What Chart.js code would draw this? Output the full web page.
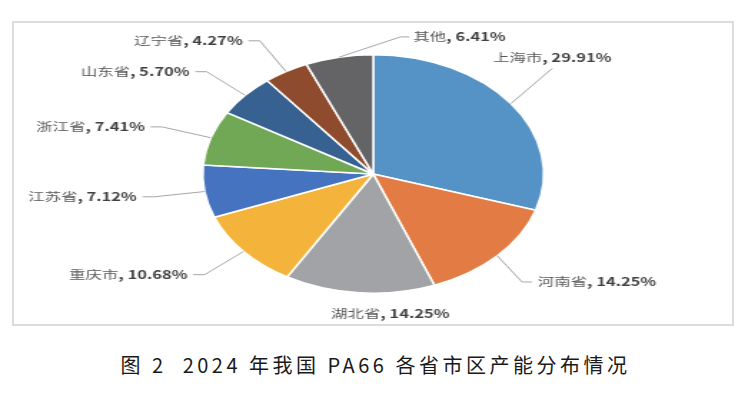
<!DOCTYPE html>
<html>
<head>
<meta charset="utf-8">
<script src="https://cdn.jsdelivr.net/npm/chart.js@4"></script>
<style>
  body { margin: 0; background: #fff; width: 751px; height: 398px; position: relative; overflow: hidden; }
  #frame { position: absolute; left: 12px; top: 21px; width: 718px; height: 301px; border: 2px solid #dcdcdc; }
  #wrap { position: absolute; left: 0; top: 0; width: 525px; height: 330px; transform: scaleX(1.43); transform-origin: 0 0; }
  #caption { position: absolute; left: 0; width: 751px; top: 350px; text-align: center;
    font: 20px "Noto Sans CJK SC", sans-serif; letter-spacing: 3.5px; color: #1a1a1a; }
</style>
</head>
<body>
<div id="frame"></div>
<div id="wrap"><canvas id="pie" width="525" height="330"></canvas></div>
<div id="caption">图 2&nbsp; 2024 年我国 PA66 各省市区产能分布情况</div>
<script>
const regions = ['上海市', '河南省', '湖北省', '重庆市', '江苏省', '浙江省', '山东省', '辽宁省', '其他'];
const shares = [29.91, 14.25, 14.25, 10.68, 7.12, 7.41, 5.70, 4.27, 6.41];
const sliceColors = ['#5592c6', '#e27b44', '#a2a3a6', '#f4b33a', '#4673bf', '#71a856', '#366190', '#8f4b2d', '#646466'];

// labels outside the pie with elbow leader lines (Excel style)
const outLabels = {
    id: 'outLabels',
    afterDatasetsDraw(chart) {
        const ctx = chart.ctx;
        const nameFont = '11.5px "Noto Sans CJK SC", sans-serif';
        const numFont = 'bold 11.5px "Noto Sans CJK SC", sans-serif';
        chart.getDatasetMeta(0).data.forEach((arc, i) => {
            const p = arc.getProps(['x', 'y', 'outerRadius', 'startAngle', 'endAngle'], true);
            const a = (p.startAngle + p.endAngle) / 2;
            const cos = Math.cos(a), sin = Math.sin(a);
            const r = p.outerRadius;
            const ax = p.x + r * cos, ay = p.y + r * sin;
            const name = regions[i], num = ', ' + shares[i].toFixed(2) + '%';
            ctx.save();
            ctx.font = nameFont;
            const w1 = ctx.measureText(name).width;
            ctx.font = numFont;
            const w2 = ctx.measureText(num).width;
            const w = w1 + w2;
            let tx, ty, pts;
            if (Math.abs(cos) < 0.25 && sin > 0) {
                // bottom: text centred under the slice, no line
                tx = p.x + 0.1 * r - w / 2; ty = p.y + 1.17 * r; pts = null;
            } else if (Math.abs(cos) < 0.25) {
                // top: line runs up and to the right
                const ex = ax + 0.36 * r, ey = p.y - 1.15 * r;
                pts = [[ax, ay], [ex, ey], [ex + 6, ey]];
                tx = ex + 9; ty = ey;
            } else if (cos > 0 && sin < -0.5) {
                // upper right: text sits on top of the line end
                const ex = p.x + 1.3 * r * cos, ey = p.y + 1.5 * r * sin;
                pts = [[ax, ay], [ex, ey]];
                tx = ex - w / 2; ty = ey - 11;
            } else if (cos > 0) {
                const ex = p.x + 1.2 * r * cos, ey = p.y + 1.32 * r * sin;
                pts = [[ax, ay], [ex, ey], [ex + 7, ey]];
                tx = ex + 11; ty = ey;
            } else {
                const ex = p.x + 1.3 * r * cos, ey = p.y + 1.3 * r * sin;
                pts = [[ax, ay], [ex, ey], [ex - 8, ey]];
                tx = ex - 12 - w; ty = ey;
            }
            if (pts) {
                ctx.strokeStyle = '#a6a6a6';
                ctx.lineWidth = 1;
                ctx.beginPath();
                pts.forEach((q, k) => k ? ctx.lineTo(q[0], q[1]) : ctx.moveTo(q[0], q[1]));
                ctx.stroke();
            }
            ctx.textBaseline = 'middle';
            ctx.textAlign = 'left';
            ctx.fillStyle = '#595959';
            ctx.font = nameFont;
            ctx.fillText(name, tx, ty);
            ctx.fillStyle = '#404040';
            ctx.font = numFont;
            ctx.fillText(num, tx + w1, ty);
            ctx.restore();
        });
    }
};

new Chart(document.getElementById('pie'), {
    type: 'pie',
    data: {
        labels: regions,
        datasets: [{
            data: shares,
            backgroundColor: sliceColors,
            borderColor: '#ffffff',
            borderWidth: 1.5
        }]
    },
    options: {
        responsive: false,
        animation: false,
        layout: { padding: { top: 54, bottom: 36, left: 120, right: 123 } },
        plugins: { legend: { display: false }, tooltip: { enabled: false } }
    },
    plugins: [outLabels]
});
</script>
</body>
</html>
